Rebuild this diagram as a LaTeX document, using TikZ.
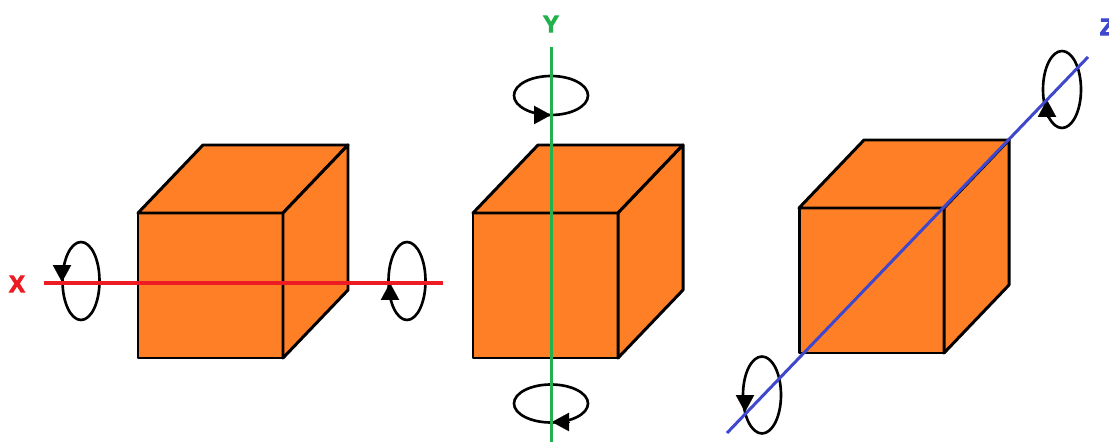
\documentclass[tikz,border=0pt]{standalone}
\usepackage{fontspec}
\newfontfamily\axisfont[FakeBold=4]{Liberation Sans Bold}
\usepackage{xcolor}
\definecolor{cubeorange}{RGB}{255,127,39}
\definecolor{axisred}{RGB}{237,28,36}
\definecolor{axisgreen}{RGB}{34,177,76}
\definecolor{axisblue}{RGB}{63,72,204}
\usetikzlibrary{arrows.meta}

\begin{document}
\begin{tikzpicture}[x=0.02cm, y=-0.02cm,
    face/.style={fill=cubeorange, draw=black, line width=1.7pt, line join=round},
    axis/.style={line width=2.2pt},
    orbit/.style={draw=black, line width=1.5pt},
    rottip/.style={-{Triangle[length=0.34cm, width=0.37cm]}, black, line width=0.1pt},
    axlabel/.style={font=\axisfont\fontsize{13.5}{14}\selectfont, inner sep=0},
]

\useasboundingbox (0,0) rectangle (1109,442);

%% --- cubes ---
\foreach \x/\y in {138/213, 473/213, 799/208}{
    \draw[face] (\x,\y) rectangle +(145,145);
    \draw[face] (\x,\y) -- +(65,-68) -- +(210,-68) -- +(145,0) -- cycle;
    \draw[face] (\x+145,\y) -- +(65,-68) -- +(65,77) -- +(0,145) -- cycle;
}

%% --- rotation circles ---
\foreach \x/\y/\rx/\ry in {
    81/281/18.5/39, 407/281/18.5/39,
    551/95.5/37/19.5, 551/403.5/37/19,
    1062/89.5/19/38.5, 762/395/19/38.5
}{
    \draw[orbit] (\x,\y) ellipse ({\rx*0.02cm} and {\ry*0.02cm});
}

%% --- rotation arrowheads ---
\foreach \x/\y/\a in {
    62/265/90, 390/300/-90,
    534/115/0, 569/422/180,
    1047/117/-90, 745/395/90
}{
    \path[rottip, draw] (\x,\y) -- +(\a:17);
}

%% --- axes ---
\coordinate (Xa) at (44,283);
\coordinate (Xb) at (443,283);
\coordinate (Ya) at (551.5,47);
\coordinate (Yb) at (551.5,442);
\coordinate (Za) at (727,433);
\coordinate (Zb) at (1088,57);

\draw[axis, axisred] (Xa) -- (Xb);
\draw[axis, axisgreen] (Ya) -- (Yb);
\draw[axis, axisblue, line width=1.7pt] (Za) -- (Zb);

%% --- axis names ---
\node[axlabel, axisred] (Xname) at (17,284) {X};
\node[axlabel, axisgreen] (Yname) at (551,24) {Y};
\node[axlabel, axisblue] (Zname) at (1107,27) {Z};

\end{tikzpicture}
\end{document}
